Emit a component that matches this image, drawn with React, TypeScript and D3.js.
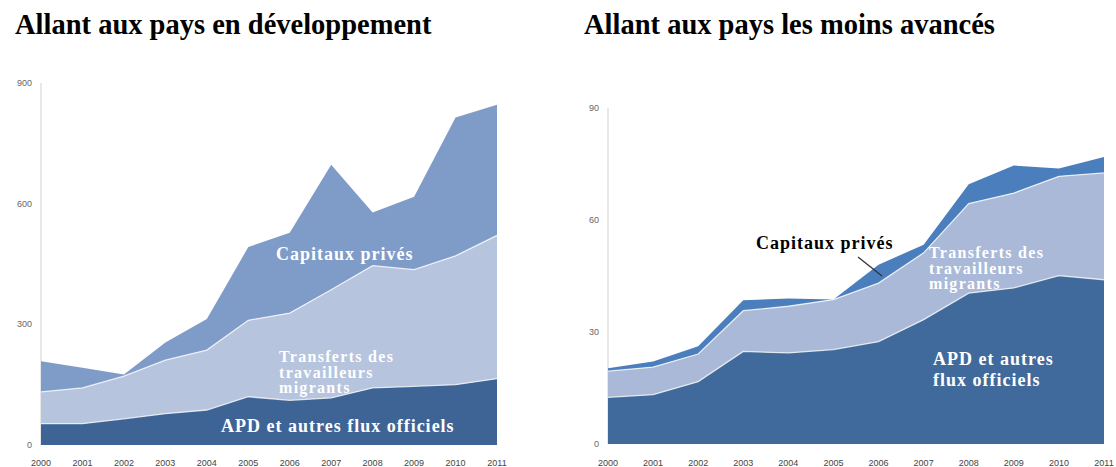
import React from "react";
import * as d3 from "d3";

const years = ["2000","2001","2002","2003","2004","2005","2006","2007","2008","2009","2010","2011"];

// Left chart (developing countries) — stacked component values
const devODA = [53, 53, 65, 78, 87, 120, 111, 117, 142, 146, 150, 165];
const devRemit = [79, 89, 106, 133, 149, 190, 217, 269, 304, 290, 320, 356];
const devPrivate = [76, 50, 4, 44, 77, 182, 200, 311, 132, 181, 344, 325];
const devTicks = [0, 300, 600, 900];

// Right chart (least developed countries)
const ldcODA = [12.5, 13.2, 16.7, 24.8, 24.4, 25.3, 27.4, 33.3, 40.4, 41.8, 45.1, 44.0];
const ldcRemit = [7.0, 7.4, 7.4, 10.9, 12.5, 13.4, 15.7, 17.9, 24.0, 25.4, 26.6, 28.6];
const ldcPrivate = [0.8, 1.5, 2.1, 2.8, 2.1, 0.0, 4.9, 2.2, 5.2, 7.4, 2.1, 4.3];
const ldcTicks = [0, 30, 60, 90];

type Panel = {
  x0: number; x1: number; yTop: number; yBottom: number; max: number;
  oda: number[]; remit: number[]; priv: number[]; ticks: number[];
  colors: string[];
};

function StackedArea({ p }: { p: Panel }) {
  const x = d3.scalePoint<string>().domain(years).range([p.x0, p.x1]);
  const y = d3.scaleLinear().domain([0, p.max]).range([p.yBottom, p.yTop]);
  const rows = years.map((yr, i) => ({ yr, oda: p.oda[i], remit: p.remit[i], priv: p.priv[i] }));
  const stack = d3.stack<any>().keys(["oda", "remit", "priv"]);
  const series = stack(rows);
  const area = d3.area<any>()
    .x((d) => x(d.data.yr) as number)
    .y0((d) => y(d[0]))
    .y1((d) => y(d[1]));
  const topLine = d3.line<any>()
    .x((d) => x(d.data.yr) as number)
    .y((d) => y(d[1]));
  return (
    <g>
      <line x1={p.x0} x2={p.x0} y1={p.yTop} y2={p.yBottom} stroke="#d9d9d9" strokeWidth={1.2} />
      {series.slice().reverse().map((s, i) => {
        const idx = 2 - i;
        return <path key={idx} d={area(s) as string} fill={p.colors[idx]} />;
      })}
      {series.slice(0, 2).map((s, i) => (
        <path key={"l" + i} d={topLine(s) as string} fill="none" stroke="#ffffff" strokeOpacity={0.75} strokeWidth={1.3} />
      ))}
      {p.ticks.map((t) => (
        <text key={t} x={p.x0 - 9} y={y(t) + 3} textAnchor="end" fontSize={9} fill="#666" fontFamily="Liberation Sans, Arial, sans-serif">{t}</text>
      ))}
      {years.map((yr) => (
        <text key={yr} x={x(yr) as number} y={466} textAnchor="middle" fontSize={9} fill="#444" fontFamily="Liberation Sans, Arial, sans-serif">{yr}</text>
      ))}
    </g>
  );
}

export default function App() {
  const serif = "'Liberation Serif', 'Times New Roman', serif";
  const left: Panel = {
    x0: 41, x1: 497, yTop: 83, yBottom: 445, max: 900,
    oda: devODA, remit: devRemit, priv: devPrivate, ticks: devTicks,
    colors: ["#3e6496", "#b6c4de", "#7f9cc8"],
  };
  const right: Panel = {
    x0: 608, x1: 1104, yTop: 108, yBottom: 444, max: 90,
    oda: ldcODA, remit: ldcRemit, priv: ldcPrivate, ticks: ldcTicks,
    colors: ["#416a9c", "#aab9d7", "#4a7ebc"],
  };
  return (
    <svg width={1116} height={467} style={{ position: "absolute", left: 0, top: 0, background: "#fff" }}>
      <text x={15} y={34} fontSize={28.5} fontWeight="bold" fontFamily={serif} fill="#000">Allant aux pays en développement</text>
      <text x={584} y={34} fontSize={28.5} fontWeight="bold" fontFamily={serif} fill="#000">Allant aux pays les moins avancés</text>
      <StackedArea p={left} />
      <StackedArea p={right} />
      <g fontFamily={serif} fontWeight="bold" fill="#fff">
        <text x={276} y={260} fontSize={18} letterSpacing={1}>Capitaux privés</text>
        <g fontSize={16} letterSpacing={1.3}>
          <text x={279} y={362}>Transferts des</text>
          <text x={279} y={378}>travailleurs</text>
          <text x={279} y={393}>migrants</text>
          <text x={929} y={258}>Transferts des</text>
          <text x={929} y={274}>travailleurs</text>
          <text x={929} y={289}>migrants</text>
        </g>
        <g fontSize={18} letterSpacing={1}>
          <text x={221} y={432}>APD et autres flux officiels</text>
          <text x={933} y={365}>APD et autres</text>
          <text x={933} y={386}>flux officiels</text>
        </g>
      </g>
      <text x={756} y={249} fontSize={18} letterSpacing={1} fontWeight="bold" fontFamily={serif} fill="#000">Capitaux privés</text>
      <line x1={858} y1={257} x2={882} y2={276} stroke="#333" strokeWidth={1.3} />
    </svg>
  );
}
